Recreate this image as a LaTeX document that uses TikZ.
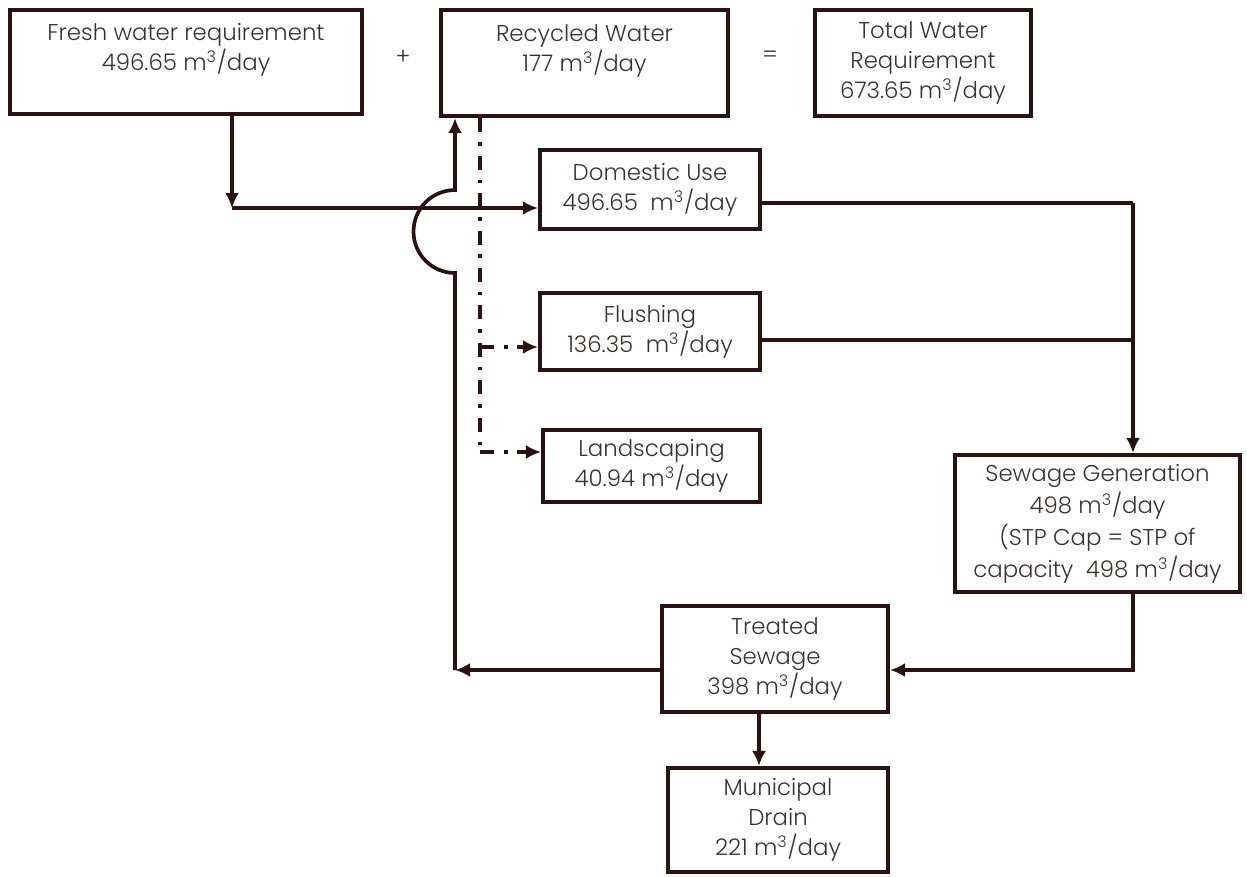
\documentclass[tikz,border=0pt]{standalone}
\usepackage{fontspec}
\IfFontExistsTF{Poppins Light}{\setmainfont{Poppins Light}}{\setmainfont{Poppins}}
\usetikzlibrary{calc,arrows.meta}
\definecolor{ink}{HTML}{2B1212}
\definecolor{txt}{HTML}{3A3232}
\newcommand{\cum}{m\textsuperscript{3}/day}
\tikzset{
  box/.style 2 args={draw=ink,line width=2.3pt,text=txt,align=center,inner sep=0pt,
    minimum width={#1*0.02cm},minimum height={#2*0.02cm}},
  tip/.style={-{Latex[length=0.3cm,width=0.28cm]}},
  arr/.style={draw=ink,line width=2.1pt,tip},
  pipe/.style={draw=ink,line width=2.1pt},
  dashdot/.style={draw=ink,line width=2.1pt,dash pattern=on 0.28cm off 0.2cm on 0.07cm off 0.2cm}
}
\begin{document}
\begin{tikzpicture}[x=0.02cm,y=-0.02cm,font=\fontsize{13}{17}\selectfont]
\useasboundingbox (0,0) rectangle (1247,876);
%
\node[box={352}{104}] (fresh) at (186,62) {Fresh water requirement\\496.65 \cum\\ \mbox{}};
\node[box={287}{106}] (recyc) at (584.5,63) {Recycled Water\\177 \cum\\ \mbox{}};
\node[box={216}{106}] (total) at (923,63) {Total Water\\Requirement\\673.65 \cum};
\node[text=txt] (plus) at (403,57) {+};
\node[text=txt] (eq) at (770,57) {=};
%
\node[box={220}{79}] (dom) at (650,189.5) {Domestic Use\\496.65~ \cum};
\node[box={220}{77}] (flush) at (650,331.5) {Flushing\\136.35~ \cum};
\node[box={217}{72}] (land) at (651.5,466) {Landscaping\\40.94 \cum};
\node[box={285}{137},font=\fontsize{13}{18.2}\selectfont] (sew) at (1097.5,523.5) {Sewage Generation\\498 \cum\\(STP Cap = STP of\\capacity~ 498 \cum};
\node[box={226}{106}] (treat) at (775,659) {Treated\\Sewage\\398 \cum};
\node[box={220}{104}] (muni) at (778,820) {Municipal\\Drain\\221 \cum};
%
\coordinate (j1) at (232,208);
\coordinate (j2) at (1133,203);
\coordinate (j3) at (1133,340);
\coordinate (j4) at (1133,670);
\coordinate (j5) at (759,740);
\coordinate (c1) at (455,670);
\coordinate (hop) at (455,273);
\coordinate (d0) at (480,347);
\coordinate (d1) at (480,452);
%
\draw[arr] (fresh.south -| j1)--(j1);
\draw[arr] (j1)--(dom.west |- j1);
\draw[pipe] (dom.east |- j2)--(j2);
\draw[pipe] (flush.east |- j3)--(j3);
\draw[arr] (j2)--(sew.north -| j2);
\draw[arr] (sew.south -| j4)--(j4)--(treat.east |- j4);
\draw[arr] (treat.south -| j5)--(muni.north -| j5);
%
\draw[arr] (treat.west |- c1)--(c1);
\draw[arr] (c1)--(hop) arc[start angle=270,end angle=90,radius=0.83cm]--(recyc.south -| hop);
%
\draw[dashdot] (recyc.south -| d1)--(d1);
\draw[dashdot,tip] (d0)--(flush.west |- d0);
\draw[dashdot,tip] (d1)--(land.west |- d1);
\end{tikzpicture}
\end{document}
